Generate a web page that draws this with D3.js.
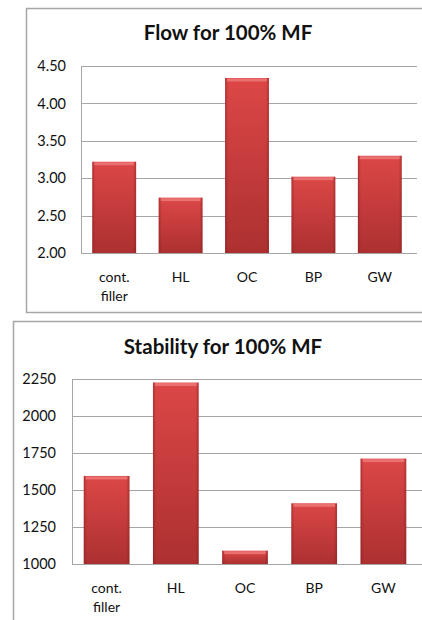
<!DOCTYPE html>
<html>
<head>
<meta charset="utf-8">
<script src="https://cdn.jsdelivr.net/npm/d3@7"></script>
<style>
  html, body { margin: 0; padding: 0; background: #fff; }
  svg { display: block; }
  text { font-family: Lato, "Open Sans", sans-serif; fill: #111; }
</style>
</head>
<body>
<script>
// Mixes tested (x-axis) shared by both panels
const categories = [["cont.", "filler"], ["HL"], ["OC"], ["BP"], ["GW"]];
const categoryKeys = ["cont. filler", "HL", "OC", "BP", "GW"];

// Flow values
const flowValues = [3.22, 2.74, 4.34, 3.02, 3.30];
const flowTicks = [2.00, 2.50, 3.00, 3.50, 4.00, 4.50];

// Stability values
const stabilityValues = [1595, 2226, 1090, 1410, 1712];
const stabilityTicks = [1000, 1250, 1500, 1750, 2000, 2250];

const W = 422, H = 620;
const svg = d3.select("body").append("svg").attr("width", W).attr("height", H);

// Gradients for the bevelled bars
const defs = svg.append("defs");
const vg = defs.append("linearGradient").attr("id", "barFill").attr("x1", 0).attr("y1", 0).attr("x2", 0).attr("y2", 1);
vg.append("stop").attr("offset", "0%").attr("stop-color", "#dc4747");
vg.append("stop").attr("offset", "100%").attr("stop-color", "#ad3030");
const hg = defs.append("linearGradient").attr("id", "barEdge").attr("x1", 0).attr("y1", 0).attr("x2", 1).attr("y2", 0);
hg.append("stop").attr("offset", "0%").attr("stop-color", "#7a1c1c").attr("stop-opacity", 0.45);
hg.append("stop").attr("offset", "7%").attr("stop-color", "#7a1c1c").attr("stop-opacity", 0);
hg.append("stop").attr("offset", "93%").attr("stop-color", "#7a1c1c").attr("stop-opacity", 0);
hg.append("stop").attr("offset", "100%").attr("stop-color", "#7a1c1c").attr("stop-opacity", 0.45);

function panel(cfg) {
  // outer frame
  svg.append("rect")
    .attr("x", cfg.frame.x).attr("y", cfg.frame.y)
    .attr("width", cfg.frame.w).attr("height", cfg.frame.h)
    .attr("fill", "#fff").attr("stroke", "#a6a6a6").attr("stroke-width", 1.5);

  const g = svg.append("g");
  const x = d3.scaleBand().domain(categoryKeys).range([cfg.left, cfg.right]).paddingInner(0.34).paddingOuter(0.17);
  const y = d3.scaleLinear().domain(cfg.domain).range([cfg.bottom, cfg.top]);

  // gridlines
  g.selectAll("line.grid").data(cfg.ticks).join("line")
    .attr("x1", cfg.left).attr("x2", cfg.right + 4)
    .attr("y1", d => Math.round(y(d)) + 0.5).attr("y2", d => Math.round(y(d)) + 0.5)
    .attr("stroke", "#a6a6a6").attr("stroke-width", 1);

  // vertical axis line
  g.append("line")
    .attr("x1", cfg.left + 0.5).attr("x2", cfg.left + 0.5)
    .attr("y1", cfg.top).attr("y2", cfg.bottom)
    .attr("stroke", "#a6a6a6");

  // tick labels
  const yAxis = d3.axisLeft(y).tickValues(cfg.ticks).tickFormat(cfg.fmt).tickSize(0).tickPadding(0);
  const ax = g.append("g").attr("transform", `translate(${cfg.labelRight},0)`).call(yAxis);
  ax.select(".domain").remove();
  ax.selectAll("text").style("font-family", "Lato, 'Open Sans', sans-serif").style("font-size", "14.5px").attr("fill", "#111");

  // bars
  const bars = g.selectAll("g.bar").data(cfg.values).join("g").attr("class", "bar");
  bars.append("rect")
    .attr("x", (d, i) => x(categoryKeys[i])).attr("width", x.bandwidth())
    .attr("y", d => y(d)).attr("height", d => y(cfg.domain[0]) - y(d))
    .attr("fill", "url(#barFill)");
  bars.append("rect")
    .attr("x", (d, i) => x(categoryKeys[i])).attr("width", x.bandwidth())
    .attr("y", d => y(d)).attr("height", d => y(cfg.domain[0]) - y(d))
    .attr("fill", "url(#barEdge)");
  // light bevel along the top
  bars.append("rect")
    .attr("x", (d, i) => x(categoryKeys[i]) + 2).attr("width", x.bandwidth() - 4)
    .attr("y", d => y(d) + 0.5).attr("height", 3)
    .attr("fill", "#ef7a7a").attr("opacity", 0.8);

  // category labels
  const xl = g.selectAll("text.cat").data(categories).join("text")
    .attr("class", "cat")
    .attr("text-anchor", "middle")
    .attr("x", (d, i) => x(categoryKeys[i]) + x.bandwidth() / 2)
    .attr("y", cfg.bottom + 29)
    .style("font-size", "14px");
  xl.selectAll("tspan").data(d => d).join("tspan")
    .attr("x", function () { return this.parentNode.getAttribute("x"); })
    .attr("dy", (d, i) => i === 0 ? 0 : 19)
    .text(d => d);

  // title
  g.append("text")
    .attr("x", cfg.titleX).attr("y", cfg.titleY)
    .attr("text-anchor", "middle")
    .style("font-size", cfg.titleSize).style("font-weight", "bold")
    .text(cfg.title);
}

panel({
  frame: { x: 26.5, y: 8.5, w: 420, h: 304 },
  left: 81, right: 413, top: 66, bottom: 253,
  labelRight: 66,
  domain: [2, 4.5], ticks: flowTicks, values: flowValues,
  fmt: d3.format(".2f"),
  title: "Flow for 100% MF", titleX: 228, titleY: 40, titleSize: "20.5px"
});

panel({
  frame: { x: 13.5, y: 321.5, w: 420, h: 320 },
  left: 72, right: 418, top: 379, bottom: 564,
  labelRight: 56,
  domain: [1000, 2250], ticks: stabilityTicks, values: stabilityValues,
  fmt: d3.format("d"),
  title: "Stability for 100% MF", titleX: 223, titleY: 354, titleSize: "20.5px"
});
</script>
</body>
</html>
